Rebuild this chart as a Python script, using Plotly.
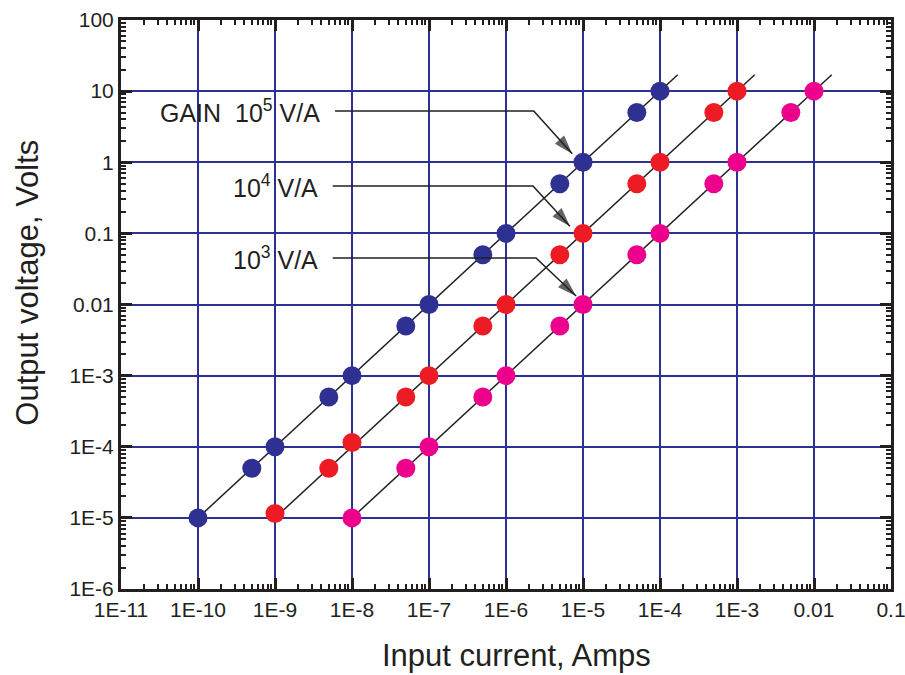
import plotly.graph_objects as go

# ---------------- data ----------------
gain_labels = ["GAIN  10<sup>5</sup> V/A", "10<sup>4</sup> V/A", "10<sup>3</sup> V/A"]
gains = [1e5, 1e4, 1e3]

blue_x = [1e-10, 5e-10, 1e-9, 5e-9, 1e-8, 5e-8, 1e-7, 5e-7, 1e-6, 5e-6, 1e-5, 5e-5, 1e-4]
blue_y = [1e-5, 5e-5, 1e-4, 5e-4, 1e-3, 5e-3, 1e-2, 5e-2, 0.1, 0.5, 1, 5, 10]

red_x = [1e-9, 5e-9, 1e-8, 5e-8, 1e-7, 5e-7, 1e-6, 5e-6, 1e-5, 5e-5, 1e-4, 5e-4, 1e-3]
red_y = [1.15e-5, 5e-5, 1.15e-4, 5e-4, 1e-3, 5e-3, 1e-2, 5e-2, 0.1, 0.5, 1, 5, 10]

mag_x = [1e-8, 5e-8, 1e-7, 5e-7, 1e-6, 5e-6, 1e-5, 5e-5, 1e-4, 5e-4, 1e-3, 5e-3, 1e-2]
mag_y = [1e-5, 5e-5, 1e-4, 5e-4, 1e-3, 5e-3, 1e-2, 5e-2, 0.1, 0.5, 1, 5, 10]

# fitted gain lines (current range), voltage = gain * current
fit_x_blue = [1e-10, 1.7e-4]
fit_x_red = [1e-9, 1.7e-3]
fit_x_mag = [1e-8, 1.7e-2]

x_tickvals = [1e-11, 1e-10, 1e-9, 1e-8, 1e-7, 1e-6, 1e-5, 1e-4, 1e-3, 1e-2, 1e-1]
x_ticktext = ["1E-11", "1E-10", "1E-9", "1E-8", "1E-7", "1E-6", "1E-5", "1E-4", "1E-3", "0.01", "0.1"]
y_tickvals = [1e-6, 1e-5, 1e-4, 1e-3, 1e-2, 1e-1, 1, 10, 100]
y_ticktext = ["1E-6", "1E-5", "1E-4", "1E-3", "0.01", "0.1", "1", "10", "100"]

# label leader lines (log10 coords): start x, elbow x, y level, tip x, tip y
leader_start = [-8.22, -8.25, -8.25]
leader_elbow = [-5.64, -5.65, -5.61]
leader_level = [0.721, -0.334, -1.346]
tip_x = [-5.14, -5.17, -5.09]
tip_y = [0.12, -0.90, -1.88]

# ---------------- style ----------------
BLUE = "#2E3192"
RED = "#ED1C24"
MAG = "#EC008C"
GRID = "#2E3192"
TXT = "#231F20"
FONT = "Liberation Sans, Arial, Helvetica, sans-serif"

fig = go.Figure()

for fx, g in zip([fit_x_blue, fit_x_red, fit_x_mag], gains):
    fig.add_trace(go.Scatter(x=fx, y=[g * v for v in fx], mode="lines",
                             line=dict(color=TXT, width=1.5),
                             hoverinfo="skip", showlegend=False))

for xs, ys, c in [(blue_x, blue_y, BLUE), (red_x, red_y, RED), (mag_x, mag_y, MAG)]:
    fig.add_trace(go.Scatter(x=xs, y=ys, mode="markers",
                             marker=dict(color=c, size=19, line=dict(width=0)),
                             showlegend=False))

# leader lines with arrowheads
for s, e, lv, tx, ty in zip(leader_start, leader_elbow, leader_level, tip_x, tip_y):
    fig.add_trace(go.Scatter(x=[10 ** s, 10 ** e, 10 ** tx], y=[10 ** lv, 10 ** lv, 10 ** ty],
                             mode="lines+markers",
                             line=dict(color=TXT, width=1.5),
                             marker=dict(symbol="arrow", size=[0, 0, 20], angleref="previous",
                                         color=TXT, line=dict(width=0)),
                             hoverinfo="skip", showlegend=False))

annotations = []
for lab, s, lv in zip(gain_labels, leader_start, leader_level):
    annotations.append(dict(x=s - 0.17, y=lv, xref="x", yref="y", text=lab, showarrow=False,
                            xanchor="right", yanchor="middle",
                            font=dict(family=FONT, size=25, color=TXT)))

annotations.append(dict(x=0.513, y=-0.116, xref="paper", yref="paper",
                        text="Input current, Amps", showarrow=False,
                        xanchor="center", yanchor="middle",
                        font=dict(family=FONT, size=31, color=TXT)))
annotations.append(dict(x=-0.121, y=0.538, xref="paper", yref="paper",
                        text="Output voltage, Volts", showarrow=False, textangle=-90,
                        xanchor="center", yanchor="middle",
                        font=dict(family=FONT, size=31, color=TXT)))

axis_common = dict(
    type="log", showline=True, linecolor=TXT, linewidth=3, mirror="allticks",
    ticks="inside", ticklen=11, tickwidth=3, tickcolor=TXT,
    showgrid=True, gridcolor=GRID, gridwidth=1.5, zeroline=False,
    tickmode="array", automargin=False, ticklabeloverflow="allow",
    tickfont=dict(family=FONT, size=21, color=TXT),
    minor=dict(ticks="inside", ticklen=5, tickwidth=2, tickcolor=TXT,
               dtick="D1", showgrid=False),
)

fig.update_xaxes(range=[-11, -1], tickvals=x_tickvals, ticktext=x_ticktext, **axis_common)
fig.update_yaxes(range=[-6, 2], tickvals=y_tickvals, ticktext=y_ticktext, **axis_common)

fig.update_layout(
    width=905, height=675,
    margin=dict(l=121, r=14, t=20, b=86),
    paper_bgcolor="white", plot_bgcolor="white",
    annotations=annotations,
    font=dict(family=FONT, color=TXT),
)

fig.write_html("out.html")
